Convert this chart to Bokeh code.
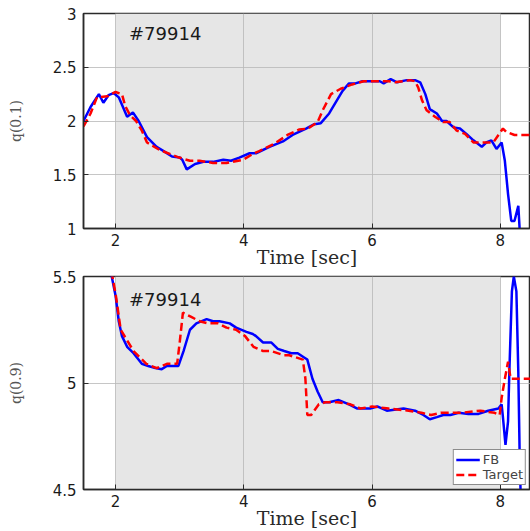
from bokeh.plotting import figure
from bokeh.models import (BoxAnnotation, Label, Range1d, Legend, LegendItem, FixedTicker)
from bokeh.layouts import column
from bokeh.embed import file_html
from bokeh.resources import INLINE

# ---------------- data ----------------
shot_label = "#79914"

t1_fb = [1.50, 1.61, 1.74, 1.81, 1.89, 1.97, 2.05, 2.18, 2.27, 2.36, 2.49, 2.64, 2.75,
         2.88, 3.00, 3.04, 3.11, 3.24, 3.37, 3.52, 3.68, 3.80, 3.93, 4.09, 4.19, 4.40,
         4.61, 4.76, 4.97, 5.10, 5.20, 5.33, 5.43, 5.54, 5.64, 5.74, 5.85, 6.00, 6.12,
         6.18, 6.29, 6.39, 6.54, 6.67, 6.75, 6.83, 6.90, 7.01, 7.09, 7.16, 7.27, 7.37,
         7.47, 7.58, 7.71, 7.78, 7.86, 7.94, 8.02, 8.07, 8.12, 8.17, 8.22, 8.28, 8.30,
         8.33]
q1_fb = [2.00, 2.13, 2.25, 2.17, 2.24, 2.26, 2.22, 2.04, 2.08, 2.00, 1.85, 1.76, 1.72,
         1.67, 1.66, 1.64, 1.55, 1.60, 1.62, 1.62, 1.64, 1.63, 1.66, 1.70, 1.70, 1.76,
         1.81, 1.87, 1.93, 1.97, 1.98, 2.07, 2.17, 2.28, 2.35, 2.35, 2.37, 2.37, 2.37,
         2.35, 2.39, 2.36, 2.38, 2.38, 2.36, 2.25, 2.11, 2.07, 2.00, 2.00, 1.94, 1.93,
         1.88, 1.82, 1.76, 1.80, 1.82, 1.74, 1.80, 1.63, 1.32, 1.07, 1.07, 1.21, 1.00,
         0.80]

t1_tg = [1.50, 1.61, 1.71, 1.87, 2.00, 2.10, 2.15, 2.23, 2.32, 2.41, 2.49, 2.69, 2.99,
         3.16, 3.31, 3.52, 3.73, 3.99, 4.16, 4.24, 4.48, 4.68, 4.86, 5.00, 5.15, 5.23,
         5.36, 5.51, 5.69, 5.87, 6.05, 6.26, 6.36, 6.59, 6.67, 6.72, 6.78, 6.85, 6.98,
         7.11, 7.21, 7.32, 7.45, 7.58, 7.76, 7.89, 7.97, 8.04, 8.09, 8.22, 8.50]
q1_tg = [1.95, 2.07, 2.22, 2.23, 2.27, 2.25, 2.14, 2.05, 2.00, 1.91, 1.80, 1.73, 1.66,
         1.63, 1.63, 1.61, 1.61, 1.64, 1.70, 1.72, 1.79, 1.87, 1.92, 1.93, 1.99, 2.10,
         2.25, 2.30, 2.34, 2.37, 2.37, 2.37, 2.36, 2.38, 2.37, 2.31, 2.19, 2.10, 2.04,
         1.99, 1.99, 1.91, 1.88, 1.80, 1.80, 1.80, 1.87, 1.93, 1.90, 1.87, 1.87]

t2_fb = [1.90, 1.94, 2.00, 2.05, 2.10, 2.18, 2.28, 2.41, 2.51, 2.62, 2.72, 2.80, 2.91,
         2.98, 3.06, 3.16, 3.26, 3.42, 3.52, 3.62, 3.78, 3.88, 4.04, 4.14, 4.19, 4.30,
         4.43, 4.53, 4.63, 4.74, 4.84, 4.94, 4.99, 5.07, 5.15, 5.23, 5.33, 5.48, 5.64,
         5.77, 5.97, 6.08, 6.23, 6.49, 6.67, 6.80, 6.90, 7.01, 7.11, 7.22, 7.35, 7.50,
         7.66, 7.81, 7.97, 8.02, 8.04, 8.08, 8.12, 8.14, 8.18, 8.21, 8.25, 8.28, 8.30,
         8.33]
q2_fb = [5.75, 5.50, 5.41, 5.29, 5.22, 5.17, 5.14, 5.09, 5.08, 5.07, 5.065, 5.08, 5.08,
         5.08, 5.15, 5.25, 5.28, 5.30, 5.29, 5.29, 5.28, 5.26, 5.24, 5.23, 5.22, 5.19,
         5.19, 5.16, 5.15, 5.14, 5.14, 5.12, 5.11, 5.02, 4.96, 4.91, 4.91, 4.92, 4.90,
         4.88, 4.88, 4.89, 4.87, 4.88, 4.87, 4.85, 4.83, 4.84, 4.85, 4.85, 4.86, 4.855,
         4.855, 4.87, 4.88, 4.90, 4.84, 4.71, 4.82, 5.05, 5.43, 5.50, 5.43, 5.05, 4.68,
         4.30]

t2_tg = [1.90, 1.95, 2.00, 2.08, 2.28, 2.48, 2.64, 2.80, 2.96, 3.00, 3.05, 3.18, 3.31,
         3.44, 3.60, 3.73, 3.88, 4.02, 4.15, 4.30, 4.43, 4.63, 4.71, 4.92, 4.96, 4.99,
         5.05, 5.17, 5.28, 5.46, 5.66, 5.82, 6.00, 6.26, 6.57, 6.77, 6.92, 7.07, 7.38,
         7.69, 7.91, 7.99, 8.02, 8.07, 8.12, 8.16, 8.22, 8.50]
q2_tg = [5.75, 5.50, 5.42, 5.25, 5.15, 5.09, 5.07, 5.09, 5.09, 5.19, 5.33, 5.31, 5.29,
         5.28, 5.28, 5.26, 5.25, 5.22, 5.17, 5.15, 5.15, 5.13, 5.13, 5.11, 5.02, 4.85,
         4.85, 4.90, 4.91, 4.91, 4.90, 4.88, 4.89, 4.88, 4.87, 4.86, 4.85, 4.86, 4.86,
         4.87, 4.86, 4.85, 4.93, 5.02, 5.10, 5.02, 5.02, 5.02]

x_ticks = [2, 4, 6, 8]
y1_ticks = [1, 1.5, 2, 2.5, 3]
y1_tick_labels = ["1", "1.5", "2", "2.5", "3"]
y2_ticks = [4.5, 5, 5.5]
y2_tick_labels = ["4.5", "5", "5.5"]
shade_span = (2, 8)

BLUE = "#0000ff"
RED = "#ff0000"
TICK_FONT = "DejaVu Sans"
SERIF = "DejaVu Serif"
DARK = "#2a2a2a"


def make_panel(height, yr, yticks, ylabels, border_top, border_bottom, ylabel, shot_y):
    p = figure(width=530, height=height, x_range=Range1d(1.5, 8.47),
               y_range=Range1d(*yr), output_backend="svg", toolbar_location=None,
               min_border_left=83, min_border_right=0, min_border_top=border_top,
               min_border_bottom=border_bottom, background_fill_color="white",
               border_fill_color="white", outline_line_color=DARK,
               outline_line_width=1.5)
    box = BoxAnnotation(left=shade_span[0], right=shade_span[1],
                        fill_color="#e6e6e6", fill_alpha=1.0, line_color=None,
                        level="image")
    p.add_layout(box)

    p.xaxis.ticker = FixedTicker(ticks=x_ticks)
    p.yaxis.ticker = FixedTicker(ticks=yticks)
    p.yaxis.major_label_overrides = {t: s for t, s in zip(yticks, ylabels)}
    for ax in (p.xaxis[0], p.yaxis[0]):
        ax.major_tick_in = 5
        ax.major_tick_out = 0
        ax.minor_tick_line_color = None
        ax.axis_line_color = DARK
        ax.axis_line_width = 1.5
        ax.major_tick_line_color = DARK
        ax.major_label_text_font = TICK_FONT
        ax.major_label_text_font_size = "15px"
        ax.major_label_text_color = "#1a1a1a"
    p.xaxis.major_label_standoff = 5
    p.yaxis.major_label_standoff = 7
    p.xaxis.axis_label = "Time [sec]"
    p.xaxis.axis_label_text_font = SERIF
    p.xaxis.axis_label_text_font_style = "normal"
    p.xaxis.axis_label_text_font_size = "19px"
    p.xaxis.axis_label_text_color = DARK
    p.xaxis.axis_label_standoff = -3

    p.yaxis.axis_label = ylabel
    p.yaxis.axis_label_text_font = SERIF
    p.yaxis.axis_label_text_font_style = "normal"
    p.yaxis.axis_label_text_font_size = "14px"
    p.yaxis.axis_label_text_color = "#555555"
    p.yaxis.axis_label_standoff = 26

    for g in (p.xgrid[0], p.ygrid[0]):
        g.grid_line_color = "#b8b8b8"
        g.grid_line_width = 1
        g.grid_line_alpha = 0.8
    p.xgrid.ticker = FixedTicker(ticks=x_ticks)
    p.ygrid.ticker = FixedTicker(ticks=yticks)

    p.add_layout(Label(x=2.21, y=shot_y, text=shot_label, text_font=TICK_FONT,
                       text_font_size="18px", text_color="#1a1a1a",
                       text_baseline="middle", text_align="left"))
    return p


p1 = make_panel(270, (1, 3), y1_ticks, y1_tick_labels, 13, 42, "q(0.1)", 2.81)
fb1 = p1.line(t1_fb, q1_fb, line_color=BLUE, line_width=2.5)
tg1 = p1.line(t1_tg, q1_tg, line_color=RED, line_width=2.5, line_dash="8 4")

p2 = make_panel(261, (4.5, 5.5), y2_ticks, y2_tick_labels, 6, 42, "q(0.9)", 5.39)
fb2 = p2.line(t2_fb, q2_fb, line_color=BLUE, line_width=2.5)
tg2 = p2.line(t2_tg, q2_tg, line_color=RED, line_width=2.5, line_dash="8 4")

legend = Legend(items=[LegendItem(label="FB", renderers=[fb2]),
                       LegendItem(label="Target", renderers=[tg2])],
                location="bottom_right", border_line_color="#1a1a1a",
                border_line_width=1.2, background_fill_color="white",
                background_fill_alpha=1.0, label_text_font=TICK_FONT,
                label_text_font_size="13px", glyph_width=24, glyph_height=11,
                label_height=11, spacing=0, padding=2, margin=4, label_standoff=3)
p2.add_layout(legend)

layout = column(p1, p2, spacing=0)
open("out.html", "w").write(file_html(layout, INLINE))
